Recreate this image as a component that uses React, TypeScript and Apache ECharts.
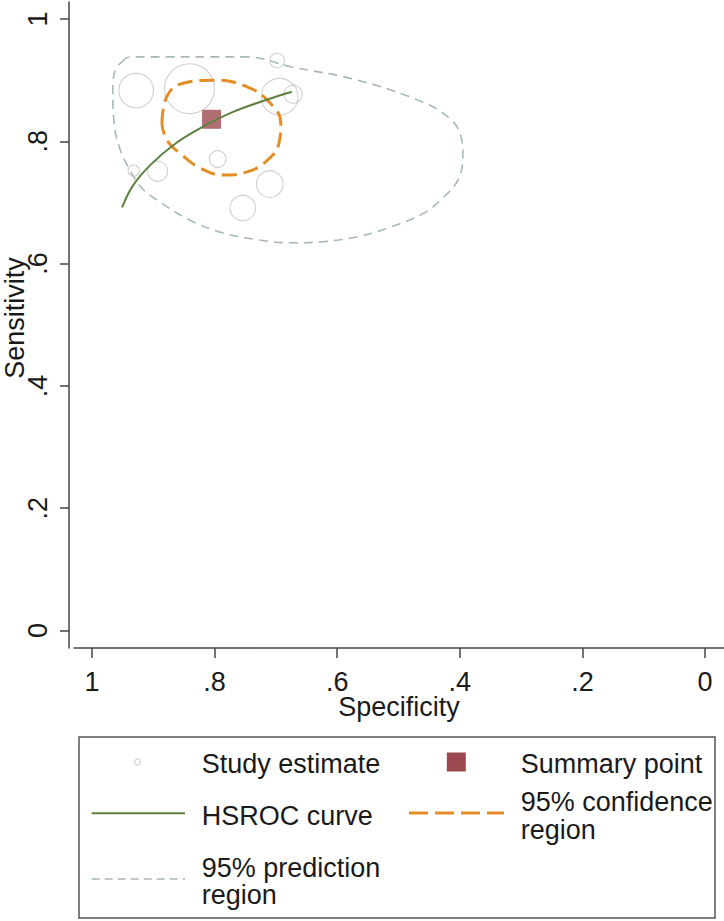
import React, { useEffect, useRef } from "react";
import * as echarts from "echarts";

// ---- data ----
const axisTicks = [0, 0.2, 0.4, 0.6, 0.8, 1];

const studySpec = [0.928, 0.841, 0.698, 0.694, 0.672, 0.795, 0.932, 0.893, 0.71, 0.754];
const studySens = [0.883, 0.886, 0.932, 0.873, 0.877, 0.771, 0.752, 0.751, 0.73, 0.691];
const studyWeight = [299, 625, 53, 335, 81, 69, 32, 100, 177, 161];

const summarySpec = [0.805];
const summarySens = [0.836];

const hsrocSpec = [0.951, 0.933, 0.905, 0.867, 0.824, 0.77, 0.715, 0.674];
const hsrocSens = [0.692, 0.728, 0.761, 0.794, 0.821, 0.848, 0.868, 0.881];

const confSpec = [0.886, 0.878, 0.851, 0.802, 0.747, 0.709, 0.692, 0.695, 0.714, 0.747, 0.785, 0.823, 0.856, 0.878, 0.886];
const confSens = [0.829, 0.873, 0.895, 0.9, 0.889, 0.862, 0.829, 0.797, 0.769, 0.75, 0.745, 0.756, 0.78, 0.802, 0.829];

const predSpec = [0.951, 0.938, 0.747, 0.676, 0.567, 0.458, 0.414, 0.398, 0.395, 0.403, 0.426, 0.458, 0.512, 0.567, 0.622, 0.676, 0.73, 0.786, 0.84, 0.894, 0.921, 0.938, 0.954, 0.964, 0.966, 0.962, 0.951];
const predSens = [0.93, 0.938, 0.938, 0.922, 0.9, 0.863, 0.835, 0.808, 0.775, 0.737, 0.709, 0.683, 0.66, 0.644, 0.636, 0.634, 0.639, 0.65, 0.671, 0.704, 0.726, 0.753, 0.786, 0.83, 0.884, 0.917, 0.93];

const xAxisTitle = "Specificity";
const yAxisTitle = "Sensitivity";
const legendLabels = [
  "Study estimate",
  "Summary point",
  "HSROC curve",
  "95% confidence region",
  "95% prediction region",
];
// legend labels as wrapped in the reference
const legendLines = [
  ["Study estimate"],
  ["Summary point"],
  ["HSROC curve"],
  ["95% confidence", "region"],
  ["95% prediction", "region"],
];

// ---- styles ----
const FONT = '"Liberation Sans", Arial, Helvetica, sans-serif';
const C_STUDY = "#c4c4c4";
const C_SUMMARY = "#9c4a50";
const C_HSROC = "#5f8040";
const C_CONF = "#e58d25";
const C_PRED = "#a6b8b8";
const C_AXIS = "#444";
const C_TEXT = "#1a1a1a";

const zip = (a: number[], b: number[]) => a.map((v, i) => [v, b[i]]);
const fmt = (v: number) => {
  const s = v.toFixed(1);
  if (s === "1.0") return "1";
  if (s === "0.0") return "0";
  return s.slice(1);
};

function buildOption() {
  const txt = (text: string, x: number, y: number) => ({
    type: "text",
    x,
    y,
    style: {
      text,
      fontSize: 27,
      fontFamily: FONT,
      fill: C_TEXT,
      align: "left",
      textAlign: "left",
      verticalAlign: "middle",
      textVerticalAlign: "middle",
    },
  });
  return {
    animation: false,
    backgroundColor: "#fff",
    grid: {
      left: 74,
      top: 2,
      width: 650,
      height: 646,
      containLabel: false,
      outerBoundsMode: "none",
    },
    xAxis: {
      type: "value",
      inverse: true,
      min: -0.031,
      max: 1.0294,
      name: xAxisTitle,
      nameLocation: "middle",
      nameGap: 45,
      nameMoveOverlap: false,
      nameTextStyle: { fontSize: 27, fontFamily: FONT, color: C_TEXT },
      axisLine: { show: true, onZero: false, lineStyle: { color: C_AXIS, width: 1.5 } },
      axisTick: { show: true, length: 10, customValues: axisTicks, lineStyle: { color: C_AXIS, width: 1.5 } },
      axisLabel: {
        customValues: axisTicks,
        formatter: fmt,
        margin: 20,
        fontSize: 27,
        fontFamily: FONT,
        color: C_TEXT,
      },
      splitLine: { show: false },
    },
    yAxis: {
      type: "value",
      min: -0.0286,
      max: 1.0278,
      offset: 5,
      name: yAxisTitle,
      nameLocation: "middle",
      nameGap: 41,
      nameMoveOverlap: false,
      nameTextStyle: { fontSize: 27, fontFamily: FONT, color: C_TEXT, padding: [0, 0, 0, 14] },
      axisLine: { show: true, onZero: false, lineStyle: { color: C_AXIS, width: 1.5 } },
      axisTick: { show: true, length: 9, customValues: axisTicks, lineStyle: { color: C_AXIS, width: 1.5 } },
      axisLabel: {
        customValues: axisTicks,
        formatter: fmt,
        rotate: 90,
        margin: 18,
        fontSize: 27,
        fontFamily: FONT,
        color: C_TEXT,
      },
      splitLine: { show: false },
    },
    series: [
      {
        name: legendLabels[4],
        type: "line",
        data: zip(predSpec, predSens),
        smooth: 0.4,
        showSymbol: false,
        symbol: "none",
        lineStyle: { color: C_PRED, width: 1.6, type: [9, 6] },
        z: 2,
      },
      {
        name: legendLabels[0],
        type: "scatter",
        data: studySpec.map((v, i) => [v, studySens[i], studyWeight[i]]),
        symbol: "circle",
        symbolSize: (d: number[]) => 2 * Math.sqrt(d[2]),
        itemStyle: { color: "rgba(0,0,0,0)", borderColor: C_STUDY, borderWidth: 1.1 },
        z: 3,
      },
      {
        name: legendLabels[3],
        type: "line",
        data: zip(confSpec, confSens),
        smooth: 0.45,
        showSymbol: false,
        symbol: "none",
        lineStyle: { color: C_CONF, width: 3, type: [15, 7] },
        z: 4,
      },
      {
        name: legendLabels[1],
        type: "scatter",
        data: zip(summarySpec, summarySens),
        symbol: "rect",
        symbolSize: 19,
        itemStyle: { color: C_SUMMARY },
        z: 5,
      },
      {
        name: legendLabels[2],
        type: "line",
        data: zip(hsrocSpec, hsrocSens),
        smooth: 0.4,
        showSymbol: false,
        symbol: "none",
        lineStyle: { color: C_HSROC, width: 2 },
        z: 6,
      },
    ],
    graphic: [
      {
        type: "rect",
        shape: { x: 79, y: 737, width: 636, height: 181 },
        style: { fill: "#fff", stroke: "#555", lineWidth: 1.5 },
      },
      {
        type: "circle",
        shape: { cx: 137.5, cy: 762, r: 3 },
        style: { fill: "none", stroke: C_STUDY, lineWidth: 1 },
      },
      txt(legendLines[0][0], 201.7, 763.5),
      {
        type: "rect",
        shape: { x: 446.8, y: 752.5, width: 19, height: 19 },
        style: { fill: C_SUMMARY },
      },
      txt(legendLines[1][0], 520.7, 763.5),
      {
        type: "line",
        shape: { x1: 91.7, y1: 813.3, x2: 185, y2: 813.3 },
        style: { stroke: C_HSROC, lineWidth: 2 },
      },
      txt(legendLines[2][0], 201.7, 815.5),
      {
        type: "line",
        shape: { x1: 409, y1: 813, x2: 504, y2: 813 },
        style: { stroke: C_CONF, lineWidth: 3, lineDash: [19, 7] },
      },
      txt(legendLines[3][0], 520.7, 801.5),
      txt(legendLines[3][1], 520.7, 830),
      {
        type: "line",
        shape: { x1: 91.7, y1: 879, x2: 185, y2: 879 },
        style: { stroke: C_PRED, lineWidth: 1.6, lineDash: [8, 5] },
      },
      txt(legendLines[4][0], 201.7, 867.5),
      txt(legendLines[4][1], 201.7, 894.5),
    ],
  };
}

export default function App() {
  const ref = useRef<HTMLDivElement>(null);
  useEffect(() => {
    if (!ref.current) return;
    const chart = echarts.init(ref.current, null, { renderer: "svg" });
    chart.setOption(buildOption() as any);
    return () => chart.dispose();
  }, []);
  return (
    <div
      ref={ref}
      style={{ position: "absolute", left: 0, top: 0, width: 724, height: 921, background: "#fff" }}
    />
  );
}
